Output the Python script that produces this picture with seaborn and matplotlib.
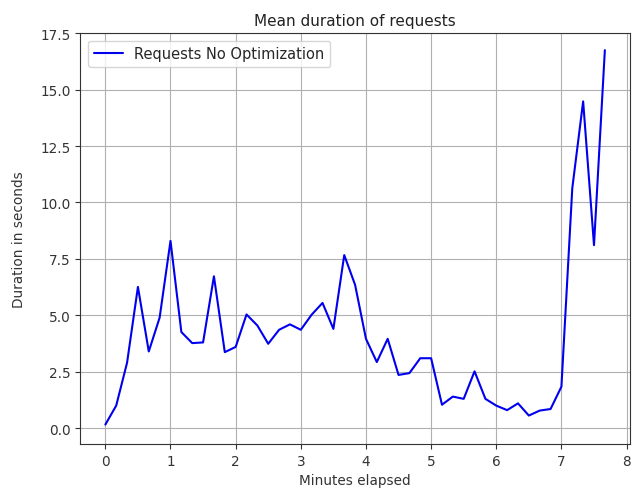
import matplotlib
matplotlib.use("Agg")
import matplotlib.pyplot as plt
import seaborn as sns
import numpy as np
import pandas as pd

minutes = [i / 6 for i in range(47)]
durations = [0.16, 1.0, 2.9, 6.26, 3.4, 4.9, 8.3, 4.26, 3.77, 3.8,
             6.73, 3.37, 3.6, 5.04, 4.55, 3.74, 4.36, 4.6, 4.36, 5.03,
             5.55, 4.4, 7.67, 6.35, 3.96, 2.93, 3.96, 2.36, 2.44, 3.1,
             3.1, 1.04, 1.4, 1.3, 2.52, 1.3, 1.0, 0.8, 1.1, 0.56,
             0.78, 0.85, 1.84, 10.63, 14.48, 8.11, 16.75]
series_name = "Requests No Optimization"

df = pd.DataFrame({"Minutes elapsed": minutes, "Duration in seconds": durations,
                   "series": series_name})

sns.set_style("ticks")
plt.rcParams['font.family'] = ['DejaVu Sans']

fig = plt.figure(figsize=(6.33, 4.89), dpi=100)
ax = fig.add_axes([0.127, 0.09, 0.868, 0.84])
sns.lineplot(data=df, x="Minutes elapsed", y="Duration in seconds", hue="series",
             palette=["#0000ee"], ax=ax, linewidth=1.5)
ax.grid(True, color="#b0b0b0", linewidth=0.8)
ax.set_xlim(-0.383, 8.05)
ax.set_ylim(-0.7, 17.5)
ax.set_xticks(range(0, 9))
ax.set_yticks(np.arange(0, 17.6, 2.5))
ax.set_yticklabels([f"{v:.1f}" for v in np.arange(0, 17.6, 2.5)])
ax.tick_params(labelsize=9.8, colors="#333333", length=3.5)
for s in ax.spines.values():
    s.set_color("#333333")
ax.set_xlabel("Minutes elapsed", fontsize=9.8, color="#333333")
ax.set_ylabel("Duration in seconds", fontsize=9.8, color="#333333", labelpad=10)
ax.set_title("Mean duration of requests", fontsize=11, color="#222222")
leg = ax.legend(loc="upper left", fontsize=10.5, frameon=True)
leg.set_title(None)
fig.savefig("out.png", dpi=100)
